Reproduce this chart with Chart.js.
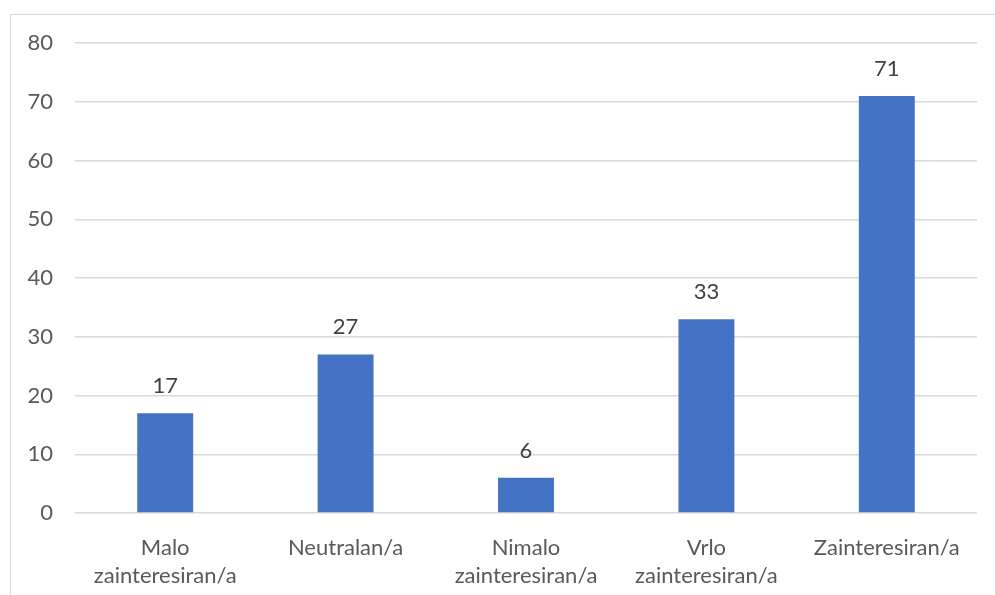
<!DOCTYPE html>
<html>
<head>
<meta charset="utf-8">
<script src="https://cdn.jsdelivr.net/npm/chart.js@4"></script>
<style>
  html, body { margin: 0; padding: 0; background: #fff; }
  #wrap { position: relative; width: 995px; height: 595px; }
  #frame {
    position: absolute; left: 10px; top: 14px; right: -2px; bottom: -2px;
    border-left: 1px solid #d9d9d9; border-top: 1px solid #d9d9d9;
  }
  #myChart { position: absolute; left: 0; top: 0; }
</style>
</head>
<body>
<div id="wrap">
  <div id="frame"></div>
  <canvas id="myChart" width="995" height="595"></canvas>
</div>
<script>
'use strict';

const categories = [
  ['Malo', 'zainteresiran/a'],
  'Neutralan/a',
  ['Nimalo', 'zainteresiran/a'],
  ['Vrlo', 'zainteresiran/a'],
  'Zainteresiran/a'
];
const counts = [17, 27, 6, 33, 71];
const yTicks = [0, 10, 20, 30, 40, 50, 60, 70, 80];

const fontName = 'Lato, "Open Sans", sans-serif';

// draws the number above each bar
const valueLabels = {
  id: 'valueLabels',
  afterDatasetsDraw(chart) {
    const c = chart.ctx;
    const meta = chart.getDatasetMeta(0);
    c.save();
    c.font = '22px ' + fontName;
    c.fillStyle = '#404040';
    c.textAlign = 'center';
    c.textBaseline = 'bottom';
    meta.data.forEach((bar, i) => {
      c.fillText(String(counts[i]), bar.x, bar.y - 16);
    });
    c.restore();
  }
};

const ctx = document.getElementById('myChart');

let mainChart = new Chart(ctx, {
  type: 'bar',
  data: {
    labels: categories,
    datasets: [{
      data: counts,
      backgroundColor: '#4472C4',
      borderWidth: 0,
      categoryPercentage: 1,
      barPercentage: 0.31
    }]
  },
  options: {
    responsive: false,
    animation: false,
    layout: { padding: { top: 43, right: 18, bottom: 0, left: 0 } },
    plugins: {
      legend: { display: false },
      tooltip: { enabled: false }
    },
    scales: {
      x: {
        grid: { display: false },
        border: { display: false },
        ticks: {
          color: '#595959',
          font: { family: fontName, size: 22, lineHeight: 1.27 },
          maxRotation: 0,
          autoSkip: false,
          padding: 13
        },
        afterFit(axis) { axis.height = 82; }
      },
      y: {
        min: 0,
        max: 80,
        afterBuildTicks(axis) { axis.ticks = yTicks.map(v => ({ value: v })); },
        grid: { color: '#d9d9d9', lineWidth: 1.5, drawTicks: false },
        border: { display: false },
        ticks: {
          color: '#595959',
          font: { family: fontName, size: 22 },
          padding: 22
        },
        afterFit(axis) { axis.width = 75; }
      }
    }
  },
  plugins: [valueLabels]
});
</script>
</body>
</html>
